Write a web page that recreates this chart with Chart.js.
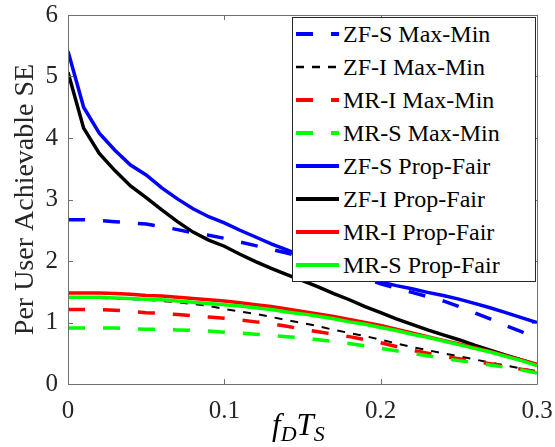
<!DOCTYPE html>
<html>
<head>
<meta charset="utf-8">
<script src="https://cdn.jsdelivr.net/npm/chart.js@4.4.0/dist/chart.umd.min.js"></script>
<style>
  html, body { margin: 0; padding: 0; background: #fff; }
  #wrap { position: relative; width: 555px; height: 447px; }
  #legend {
    position: absolute; left: 292px; top: 17px; width: 244px; height: 265px;
    box-sizing: border-box; border: 1px solid #262626; background: #fff;
    font-family: "Liberation Serif", "DejaVu Serif", serif; font-size: 24px; color: #000;
  }
  .row { position: absolute; left: 0; height: 33px; display: flex; align-items: center; white-space: nowrap; }
  .row svg { margin-left: 3px; margin-right: 4px; }
  #xlab {
    position: absolute; left: 272px; top: 407px;
    font-family: "Liberation Serif", "DejaVu Serif", serif; font-style: italic; font-size: 31px; color: #000;
  }
  #xlab sub { font-size: 22px; vertical-align: -6px; }
</style>
</head>
<body>
<div id="wrap">
  <canvas id="myChart" width="555" height="447"></canvas>
  <div id="legend"></div>
  <div id="xlab">f<sub>D</sub>T<sub>S</sub></div>
</div>
<script>
// normalized doppler f_D T_S
var fD = [0, 0.01, 0.02, 0.03, 0.04, 0.05, 0.06, 0.07, 0.08, 0.09, 0.10,
  0.11, 0.12, 0.13, 0.14, 0.15, 0.16, 0.17, 0.18, 0.19, 0.20,
  0.21, 0.22, 0.23, 0.24, 0.25, 0.26, 0.27, 0.28, 0.29, 0.30];

// max-min
var zfsMaxMin = [2.67, 2.67, 2.66, 2.64, 2.62, 2.60, 2.56, 2.51, 2.46, 2.42, 2.37,
  2.31, 2.25, 2.19, 2.13, 2.06, 1.98, 1.90, 1.81, 1.72, 1.63,
  1.56, 1.49, 1.42, 1.35, 1.26, 1.16, 1.06, 0.95, 0.85, 0.75];
var zfiMaxMin = [1.40, 1.40, 1.40, 1.39, 1.38, 1.37, 1.35, 1.33, 1.30, 1.27, 1.22,
  1.18, 1.14, 1.09, 1.04, 0.99, 0.94, 0.88, 0.83, 0.78, 0.72,
  0.66, 0.60, 0.55, 0.50, 0.45, 0.40, 0.35, 0.30, 0.25, 0.21];
var mriMaxMin = [1.21, 1.21, 1.21, 1.20, 1.18, 1.16, 1.15, 1.13, 1.11, 1.09, 1.07,
  1.04, 1.01, 0.98, 0.94, 0.89, 0.85, 0.81, 0.77, 0.72, 0.67,
  0.61, 0.55, 0.50, 0.45, 0.41, 0.37, 0.33, 0.29, 0.24, 0.20];
var mrsMaxMin = [0.91, 0.91, 0.91, 0.91, 0.90, 0.89, 0.89, 0.88, 0.87, 0.86, 0.84,
  0.83, 0.81, 0.79, 0.77, 0.75, 0.72, 0.69, 0.66, 0.62, 0.58,
  0.54, 0.50, 0.46, 0.42, 0.38, 0.35, 0.31, 0.27, 0.23, 0.18];

// prop-fair
var zfsPropFair = [5.41, 4.50, 4.08, 3.80, 3.56, 3.40, 3.19, 3.01, 2.85, 2.72, 2.62,
  2.50, 2.39, 2.28, 2.18, 2.08, 2.00, 1.91, 1.83, 1.75, 1.66,
  1.60, 1.55, 1.49, 1.44, 1.38, 1.31, 1.24, 1.16, 1.08, 1.00];
var zfiPropFair = [5.07, 4.16, 3.75, 3.47, 3.22, 3.03, 2.83, 2.64, 2.47, 2.34, 2.24,
  2.11, 1.99, 1.88, 1.78, 1.68, 1.58, 1.47, 1.37, 1.26, 1.16,
  1.06, 0.97, 0.88, 0.80, 0.72, 0.63, 0.55, 0.47, 0.39, 0.31];
var mriPropFair = [1.48, 1.48, 1.48, 1.47, 1.46, 1.44, 1.43, 1.41, 1.39, 1.37, 1.35,
  1.32, 1.29, 1.26, 1.22, 1.18, 1.14, 1.10, 1.05, 1.00, 0.95,
  0.89, 0.83, 0.77, 0.71, 0.65, 0.59, 0.53, 0.46, 0.39, 0.32];
var mrsPropFair = [1.41, 1.41, 1.41, 1.40, 1.39, 1.38, 1.37, 1.35, 1.33, 1.31, 1.29,
  1.27, 1.24, 1.21, 1.17, 1.14, 1.10, 1.06, 1.01, 0.97, 0.92,
  0.87, 0.81, 0.76, 0.70, 0.64, 0.58, 0.52, 0.45, 0.38, 0.30];

var labels = ["ZF-S Max-Min", "ZF-I Max-Min", "MR-I Max-Min", "MR-S Max-Min",
  "ZF-S Prop-Fair", "ZF-I Prop-Fair", "MR-I Prop-Fair", "MR-S Prop-Fair"];
var series = [zfsMaxMin, zfiMaxMin, mriMaxMin, mrsMaxMin,
  zfsPropFair, zfiPropFair, mriPropFair, mrsPropFair];
var colors = ["#0000ff", "#000000", "#ff0000", "#00ff00",
  "#0000ff", "#000000", "#ff0000", "#00ff00"];
var dashes = [[17, 18], [8, 8], [17, 18], [17, 18], [], [], [], []];
var widths = [3.5, 2, 3.5, 3.5, 3.5, 3.5, 3.5, 3.5];

var axisColor = "#707070";
var serif = "'Liberation Serif', 'DejaVu Serif', serif";

// matlab style box with inward ticks
const boxPlugin = {
  id: "box",
  afterDatasetsDraw(chart) {
    const { ctx, chartArea: a, scales } = chart;
    ctx.save();
    ctx.strokeStyle = axisColor;
    ctx.lineWidth = 1;
    ctx.beginPath();
    ctx.rect(Math.round(a.left) + 0.5, Math.round(a.top) + 0.5,
      Math.round(a.right - a.left), Math.round(a.bottom - a.top));
    scales.x.ticks.forEach((t) => {
      const px = Math.round(scales.x.getPixelForValue(t.value)) + 0.5;
      ctx.moveTo(px, a.bottom); ctx.lineTo(px, a.bottom - 5);
      ctx.moveTo(px, a.top); ctx.lineTo(px, a.top + 5);
    });
    scales.y.ticks.forEach((t) => {
      const py = Math.round(scales.y.getPixelForValue(t.value)) + 0.5;
      ctx.moveTo(a.left, py); ctx.lineTo(a.left + 5, py);
      ctx.moveTo(a.right, py); ctx.lineTo(a.right - 5, py);
    });
    ctx.stroke();
    ctx.restore();
  }
};

const ctx = document.getElementById("myChart").getContext("2d");
const myChart = new Chart(ctx, {
  type: "line",
  data: {
    datasets: series.map((s, i) => ({
      label: labels[i],
      data: s.map((v, k) => ({ x: fD[k], y: v })),
      borderColor: colors[i],
      borderWidth: widths[i],
      borderDash: dashes[i],
      pointRadius: 0,
      tension: 0,
      fill: false,
      order: series.length - i
    }))
  },
  options: {
    responsive: false,
    animation: false,
    layout: { padding: { left: 0, right: 18, top: 15, bottom: 0 } },
    plugins: { legend: { display: false }, tooltip: { enabled: false } },
    scales: {
      x: {
        type: "linear", min: 0, max: 0.3,
        grid: { display: false, drawTicks: false },
        border: { display: false },
        ticks: {
          stepSize: 0.1, padding: 12, color: "#262626",
          font: { family: serif, size: 25 },
          callback: (v) => String(+v.toFixed(1))
        },
        afterFit: (s) => { s.height = 63; s.paddingLeft = 0; s.paddingRight = 0; }
      },
      y: {
        min: 0, max: 6,
        grid: { display: false, drawTicks: false },
        border: { display: false },
        ticks: {
          stepSize: 1, padding: 10, color: "#262626",
          font: { family: serif, size: 25 }
        },
        title: {
          display: true, text: "Per User Achievable SE", color: "#262626",
          font: { family: serif, size: 28 }, padding: { top: 9, bottom: 0 }
        },
        afterFit: (s) => { s.width = 68; s.paddingTop = 0; s.paddingBottom = 0; }
      }
    }
  },
  plugins: [boxPlugin]
});

// legend in the upper right, like the matlab one
var leg = document.getElementById("legend");
labels.forEach((lab, i) => {
  var row = document.createElement("div");
  row.className = "row";
  row.style.top = (16 + 33 * i - 16.5) + "px";
  var dash = dashes[i].length ? ' stroke-dasharray="' + dashes[i].join(" ") + '"' : "";
  row.innerHTML = '<svg width="43" height="10"><line x1="0" y1="5" x2="43" y2="5" stroke="' +
    colors[i] + '" stroke-width="' + (widths[i] + 0.5) + '"' + dash + '/></svg><span>' + lab + '</span>';
  leg.appendChild(row);
});
</script>
</body>
</html>
